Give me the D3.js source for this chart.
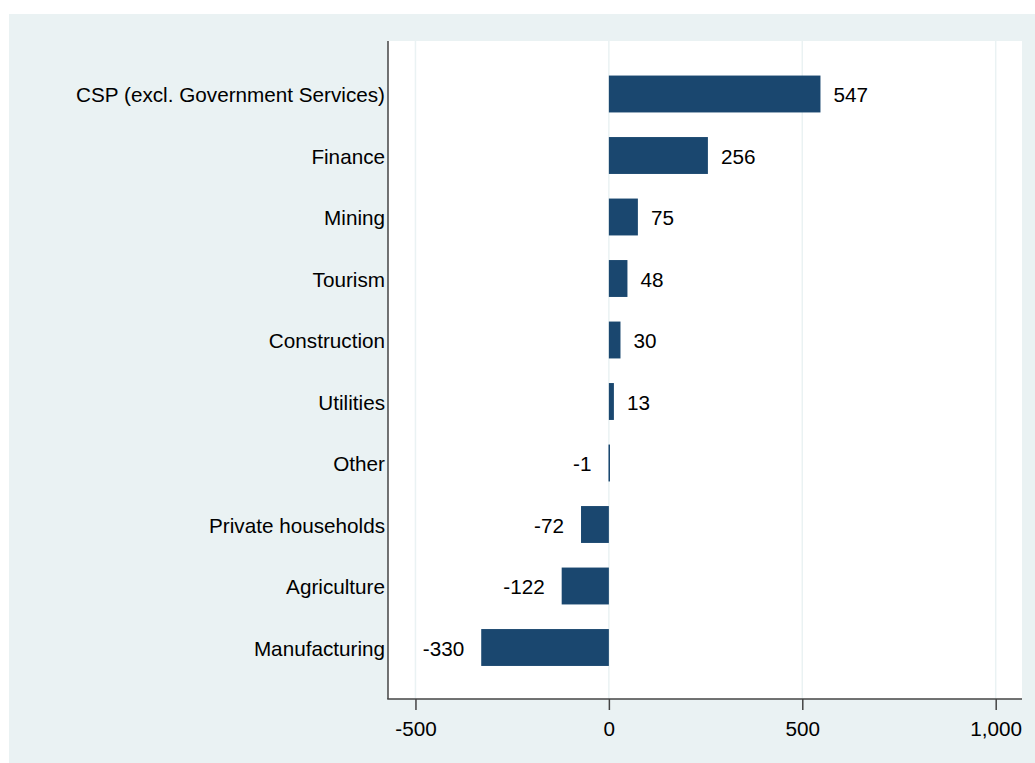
<!DOCTYPE html>
<html>
<head>
<meta charset="utf-8">
<script src="https://cdn.jsdelivr.net/npm/d3@7/dist/d3.min.js"></script>
<style>
html,body{margin:0;padding:0;background:#fff;}
svg{display:block;}
text{font-family:"Liberation Sans",Arial,sans-serif;fill:#000;}
</style>
</head>
<body>
<svg id="chart" width="1035" height="763"></svg>
<script>
const categories = ["CSP (excl. Government Services)","Finance","Mining","Tourism","Construction","Utilities","Other","Private households","Agriculture","Manufacturing"];
const values = [547,256,75,48,30,13,-1,-72,-122,-330];
const tickValues = [-500,0,500,1000];

const W = 1035, H = 763;
const FS = 20.7;
const plot = {left:388, right:1022, top:41, bottom:699};
const svg = d3.select("#chart");
const locale = d3.formatLocale({decimal:".", thousands:",", grouping:[3], currency:["",""], minus:"-"});
const fmt = locale.format(",");

svg.append("rect").attr("x",9).attr("y",14).attr("width",W-9).attr("height",H-14).attr("fill","#eaf2f3");
svg.append("rect").attr("x",plot.left).attr("y",plot.top).attr("width",plot.right-plot.left).attr("height",plot.bottom-plot.top).attr("fill","#ffffff");

const x = d3.scaleLinear().domain([-571,1068]).range([plot.left,plot.right]);
const y = d3.scaleBand().domain(categories).range([63.25,678.25]).paddingInner(0.4).paddingOuter(0.2);

// gridlines
svg.append("g").selectAll("line").data(tickValues).join("line")
  .attr("x1",d=>x(d)).attr("x2",d=>x(d))
  .attr("y1",plot.top).attr("y2",plot.bottom)
  .attr("stroke","#eaf2f3").attr("stroke-width",1.5);

const data = categories.map((c,i)=>({c, v:values[i]}));

svg.append("g").selectAll("rect").data(data).join("rect")
  .attr("x",d=>x(Math.min(0,d.v)))
  .attr("width",d=>Math.max(1.5,Math.abs(x(d.v)-x(0))))
  .attr("y",d=>y(d.c))
  .attr("height",y.bandwidth())
  .attr("fill","#1a476f");

svg.append("g").selectAll("text").data(data).join("text")
  .attr("x",d=>d.v>=0 ? x(d.v)+13 : x(d.v)-17)
  .attr("y",d=>y(d.c)+y.bandwidth()/2)
  .attr("dy","0.40em")
  .attr("text-anchor",d=>d.v>=0?"start":"end")
  .attr("font-size",FS)
  .text(d=>fmt(d.v));

// y axis
const yAxis = d3.axisLeft(y).tickSize(0).tickPadding(3);
const gy = svg.append("g").attr("transform",`translate(${plot.left},0)`).call(yAxis);
gy.select(".domain").remove();
gy.selectAll("text").attr("font-size",FS).attr("dy","0.40em").attr("font-family","Liberation Sans, Arial, sans-serif").attr("fill","#000");
svg.append("line").attr("x1",plot.left).attr("x2",plot.left).attr("y1",plot.top).attr("y2",plot.bottom)
  .attr("stroke","#444").attr("stroke-width",1.5);

// x axis
const xAxis = d3.axisBottom(x).tickValues(tickValues).tickSize(11).tickPadding(11).tickFormat(fmt);
const gx = svg.append("g").attr("transform",`translate(0,${plot.bottom})`).call(xAxis);
gx.select(".domain").remove();
gx.selectAll("line").attr("stroke","#444").attr("stroke-width",1.5);
gx.selectAll("text").attr("font-size",FS).attr("font-family","Liberation Sans, Arial, sans-serif").attr("fill","#000");
svg.append("line").attr("x1",plot.left-0.75).attr("x2",plot.right).attr("y1",plot.bottom).attr("y2",plot.bottom)
  .attr("stroke","#444").attr("stroke-width",1.5);
</script>
</body>
</html>
